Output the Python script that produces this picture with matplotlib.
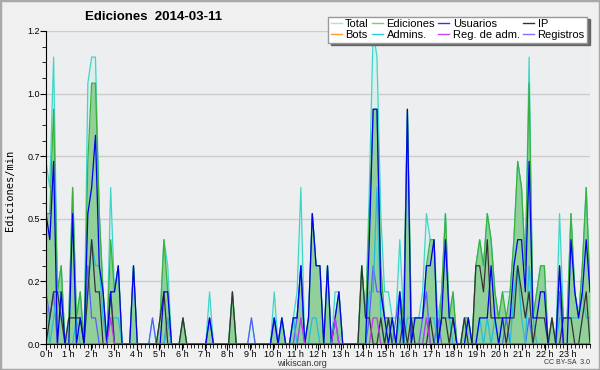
import matplotlib
matplotlib.use("Agg")
import matplotlib.pyplot as plt
from matplotlib.lines import Line2D
from matplotlib.patches import Rectangle
import numpy as np

plt.rcParams["font.family"] = ["Liberation Sans", "DejaVu Sans"]

# edit counts per 10-minute bucket (144 buckets), plotted as edits/min
total = [7,6,11,2,3,0, 1,6,1,2,0,10, 11,11,5,2,0,6, 2,3,0,0,0,3,
         0,0,0,0,1,0, 1,4,3,0,0,0, 1,0,0,0,0,0, 0,2,0,0,0,0,
         0,2,0,0,0,0, 1,0,0,0,0,0, 2,0,1,0,0,1, 2,6,0,1,5,3,
         3,0,3,0,2,2, 0,0,0,0,0,3, 1,6,12,11,5,2, 2,1,1,4,1,9,
         1,1,1,2,5,4, 4,1,2,5,1,2, 0,0,1,1,0,3, 4,3,5,4,2,1,
         2,2,2,4,7,6, 3,11,1,2,3,3, 0,1,0,5,1,1, 5,2,1,3,6,2]
edits = [5,5,9,2,3,0, 1,6,1,2,0,7, 10,10,5,2,0,4, 2,3,0,0,0,3,
         0,0,0,0,0,0, 1,4,2,0,0,0, 1,0,0,0,0,0, 0,1,0,0,0,0,
         0,2,0,0,0,0, 0,0,0,0,0,0, 1,0,1,0,0,1, 1,3,0,1,5,3,
         3,0,3,0,1,2, 0,0,0,0,0,3, 1,5,9,9,3,1, 1,1,0,2,1,9,
         1,1,1,1,3,4, 4,0,2,5,1,2, 0,0,1,1,0,3, 4,3,5,4,2,1,
         2,1,2,4,7,6, 3,10,1,2,3,3, 0,1,0,3,1,1, 5,2,1,3,6,2]
users = [5,4,7,0,2,0, 0,5,0,1,0,5, 6,8,3,2,0,2, 2,3,0,0,0,3,
         0,0,0,0,0,0, 0,2,2,0,0,0, 0,0,0,0,0,0, 0,1,0,0,0,0,
         0,0,0,0,0,0, 0,0,0,0,0,0, 1,0,1,0,0,1, 1,3,0,1,5,3,
         3,0,3,0,1,2, 0,0,0,0,0,0, 0,4,9,9,2,1, 0,1,0,2,0,9,
         0,1,1,1,3,3, 4,0,1,4,1,1, 0,0,0,1,0,0, 1,1,1,3,1,0,
         1,1,1,3,4,4, 2,7,1,1,2,2, 0,0,0,3,0,0, 4,2,1,2,4,2]
ip = [0,1,2,2,1,0, 1,1,1,1,0,2, 4,2,2,0,0,2, 0,0,0,0,0,0,
      0,0,0,0,0,0, 1,2,0,0,0,0, 1,0,0,0,0,0, 0,0,0,0,0,0,
      0,2,0,0,0,0, 0,0,0,0,0,0, 0,0,0,0,0,0, 0,0,0,0,0,0,
      0,0,0,0,0,0, 0,0,0,0,0,3, 1,1,0,0,1,0, 1,0,0,0,1,0,
      1,0,0,0,0,1, 0,0,1,1,0,1, 0,0,1,0,0,3, 3,2,4,1,1,1,
      1,0,1,1,3,2, 1,2,0,1,1,1, 0,1,0,0,1,1, 1,0,0,1,2,0]
admins = [2,0,1,2,2,0, 0,0,1,0,0,2, 4,3,3,1,0,1, 1,1,0,0,0,0,
          0,0,0,0,0,0, 0,0,1,0,0,0, 0,0,0,0,0,0, 0,0,0,0,0,0,
          0,0,0,0,0,0, 0,0,0,0,0,0, 0,0,1,0,0,1, 0,1,0,0,1,1,
          0,0,0,0,1,0, 0,0,0,0,0,0, 0,2,2,6,1,0, 1,0,0,1,0,1,
          1,0,0,0,1,1, 1,0,1,1,1,0, 0,0,0,1,0,0, 1,0,1,0,1,0,
          1,0,0,2,3,1, 0,3,1,0,0,0, 0,0,0,1,1,1, 1,1,1,2,1,1]
registros = [2,1,2,0,0,0, 0,0,0,0,0,3, 1,1,0,0,0,2, 0,0,0,0,0,0,
             0,0,0,0,1,0, 0,0,1,0,0,0, 0,0,0,0,0,0, 0,1,0,0,0,0,
             0,0,0,0,0,0, 1,0,0,0,0,0, 1,0,0,0,0,0, 1,3,0,0,0,0,
             0,0,0,0,1,0, 0,0,0,0,0,0, 0,1,3,2,2,1, 1,0,1,2,0,0,
             0,0,0,1,2,0, 0,1,0,0,0,0, 0,0,0,0,0,0, 0,0,0,0,0,0,
             0,1,0,0,0,0, 0,1,0,0,0,0, 0,0,0,2,0,0, 0,0,0,0,0,0]
regadm = [0]*144
for i in (17, 67, 76, 86, 87, 100):
    regadm[i] = 1

hours = [f"{h} h" for h in range(24)]
ytick_labels = ["0.0", "0.2", "0.5", "0.7", "1.0", "1.2"]

x = np.arange(len(total))
def per_min(a):
    return np.array(a) / 10.0

fig = plt.figure(figsize=(6, 3.7), dpi=100, facecolor="#f0f0f0")
fig.patches.append(Rectangle((0, 0), 1, 1, transform=fig.transFigure, fill=False,
                             edgecolor="#a8a8a8", lw=2.5))
ax = fig.add_axes([46/600, 1-344/370, 544/600, 313/370])
ax.set_facecolor("#eceef0")

# series
ax.fill_between(x, per_min(total), color="#d4f0ec", alpha=0.8, lw=0)
ax.plot(x, per_min(total), color="#3fd6c8", lw=0.9)
ax.fill_between(x, per_min(edits), color="#8fcf95", alpha=0.95, lw=0)
ax.plot(x, per_min(edits), color="#3cb03c", lw=0.9)
ax.plot(x, per_min(registros), color="#5c5cff", lw=0.9)
ax.plot(x, per_min(admins), color="#22bfdd", lw=0.9)
ax.plot(x, per_min(ip), color="#333333", lw=0.9)
ax.plot(x, per_min(users), color="#0000ee", lw=0.9)
ax.plot(x, per_min(regadm), color="#cc33ee", lw=0.9)

ax.set_xlim(0, 143)
ax.set_ylim(0, 1.2)
ax.set_yticks(np.arange(6) * 0.24)
ax.set_yticklabels(ytick_labels)
ax.set_yticks(np.arange(21) * 0.06, minor=True)
ax.set_xticks(np.arange(24) * 143 / 24)
ax.set_xticklabels(hours)
ax.set_xticks(x, minor=True)
ax.grid(axis="y", color="#cccccc", lw=1)
ax.set_axisbelow(True)
for s in ("top", "right"):
    ax.spines[s].set_visible(False)
ax.tick_params(axis="both", which="both", direction="out", labelsize=6.5, pad=0.5)
ax.tick_params(axis="both", which="major", length=4)
ax.tick_params(axis="both", which="minor", length=3)

fig.text(85/600, 1-17/370, "Ediciones  2014-03-11", fontsize=9.5, fontweight="bold",
         va="center", ha="left")
fig.text(10/600, 1-190/370, "Ediciones/min", rotation=90, fontsize=7.5,
         family="DejaVu Sans Mono", va="center", ha="center")
fig.text(302/600, 1-364/370, "wikiscan.org", fontsize=6.5, ha="center", va="center",
         color="#333333")
fig.text(590/600, 1-363/370, "CC BY-SA  3.0", fontsize=5, ha="right", va="center",
         color="#333333")

handles = [Line2D([], [], color="#a8e4dc", lw=1, label="Total"),
           Line2D([], [], color="#ff9933", lw=1, label="Bots"),
           Line2D([], [], color="#80c880", lw=1, label="Ediciones"),
           Line2D([], [], color="#33ccdd", lw=1, label="Admins."),
           Line2D([], [], color="#3333ee", lw=1, label="Usuarios"),
           Line2D([], [], color="#cc44ee", lw=1, label="Reg. de adm."),
           Line2D([], [], color="#333333", lw=1, label="IP"),
           Line2D([], [], color="#7777ff", lw=1, label="Registros")]
fig.legend(handles=handles, ncol=4, loc="upper right", bbox_to_anchor=(593/600, 1-11/370),
           fontsize=8, handlelength=1.0, handletextpad=0.3, columnspacing=0.3,
           labelspacing=0.05, borderpad=0.25, fancybox=False, edgecolor="#999999",
           framealpha=1, shadow={"color": "#666666", "alpha": 1})

fig.savefig("out.png", dpi=100, facecolor=fig.get_facecolor())
